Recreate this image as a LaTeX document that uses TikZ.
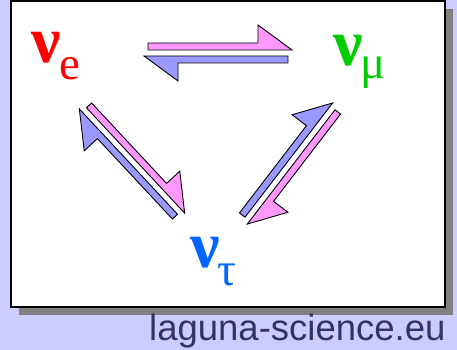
\documentclass[tikz,border=0pt]{standalone}
\usepackage{fontspec}
\setmainfont{Liberation Serif}
\newfontfamily\labelfont{Liberation Sans}
\definecolor{bglav}{HTML}{CCCCFF}
\definecolor{shadowgray}{HTML}{808080}
\definecolor{harppink}{HTML}{FF99FF}
\definecolor{harpblue}{HTML}{9999FF}
\definecolor{nured}{HTML}{FF0000}
\definecolor{nugreen}{HTML}{00CC00}
\definecolor{nublue}{HTML}{0066FF}
\definecolor{labcol}{HTML}{333366}
\newcommand{\subf}{\mdseries\fontsize{47}{47}\selectfont}
\begin{document}
\begin{tikzpicture}[x=1pt,y=-1pt,
  nusym/.style={inner sep=0pt, font=\bfseries\fontsize{66}{66}\selectfont, anchor=base west},
  harpA/.style={fill=harppink, draw=black, line width=0.9pt, line join=miter},
  harpB/.style={fill=harpblue, draw=black, line width=0.9pt, line join=miter},
  osc/.pic={
    \filldraw[harpA] (-70,-3) -- (-70,-10) -- (40,-10) -- (40,-28) -- (74,-3) -- cycle;
    \filldraw[harpB] (70,3) -- (70,10) -- (-40,10) -- (-40,28) -- (-74,3) -- cycle;
  }]
\fill[bglav] (0,0) rectangle (457,350);
\useasboundingbox (0,0) rectangle (457,350);
\fill[shadowgray] (19,9) rectangle (453,315);
\draw[fill=white, line width=1.5pt] (11,1) rectangle (445,307);

\node[nusym, text=nured] (ne) at (31,63) {ν\kern-1pt\raisebox{-17pt}{\subf e}};
\node[nusym, text=nugreen] (nm) at (333,66) {ν\kern-2pt\raisebox{-13pt}{\subf μ}};
\node[nusym, text=nublue] (nt) at (190,267) {ν\kern-2pt\raisebox{-18pt}{\subf τ}};

\coordinate (cem) at (218,53);
\coordinate (cet) at (132,161);
\coordinate (cmt) at (290,163.5);
\pic[rotate=0] (pem) at (cem) {osc};
\pic[rotate=-47] (pet) at (cet) {osc};
\pic[rotate=232.5] (pmt) at (cmt) {osc};

\node[inner sep=0pt, anchor=base west, font=\labelfont\fontsize{36.5}{40}\selectfont, text=labcol] (src) at (149,340) {laguna-science.eu};
\end{tikzpicture}
\end{document}
